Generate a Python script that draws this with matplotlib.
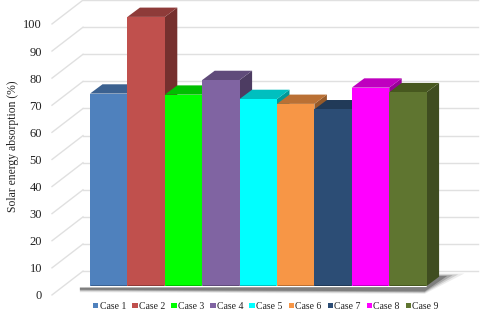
import matplotlib
matplotlib.use('Agg')
import matplotlib.pyplot as plt
from matplotlib.patches import Polygon, Patch

plt.rcParams['font.family'] = ['Liberation Serif', 'DejaVu Serif']

cases = ['Case 1', 'Case 2', 'Case 3', 'Case 4', 'Case 5', 'Case 6', 'Case 7', 'Case 8', 'Case 9']
values = [71, 99.3, 70.6, 76, 69, 67.2, 65.2, 73.2, 71.5]
y_ticks = [0, 10, 20, 30, 40, 50, 60, 70, 80, 90, 100]
front_colors = ['#4F81BD', '#C0504D', '#00FF00', '#8064A2', '#00FFFF', '#F79646', '#2C4D75', '#FF00FF', '#5F7530']
top_colors = ['#3B6190', '#8E3B39', '#00BF00', '#604B7A', '#00BFBF', '#BA7034', '#213A58', '#BF00BF', '#47581F']
side_colors = ['#2F4D73', '#76302E', '#009900', '#4D3C62', '#009999', '#955A2A', '#1A2E46', '#990099', '#3F4D20']

# bar width is one x unit, y is in percent
px_x = 37.4
px_y = 2.71
x0 = 90 / px_x
dx = 12.5 / px_x
dy = 9.3 / px_y
wall = 5.5      # grid 0 on the back wall, relative to bar 0
floor = -3.3    # axis 0 on the front edge

fig = plt.figure(figsize=(4.8, 3.11), dpi=100)
ax = fig.add_axes([0, 0, 1, 1])
ax.set_xlim(-x0, (480 - 90) / px_x)
ax.set_ylim(-25 / px_y, 286 / px_y)
ax.axis('off')

n = len(values)
back_x = -7 / px_x
front_x = -38 / px_x
for t in y_ticks:
    ax.plot([back_x, 388 / px_x], [wall + t, wall + t], color='#E0E0E0', lw=1, zorder=1)
    ax.plot([front_x, back_x], [floor + t, wall + t], color='#E0E0E0', lw=1, zorder=1)
    ax.text(-48 / px_x, floor + t, str(t), ha='right', va='center_baseline', fontsize=9, color='#222222')

ax.text(-77 / px_x, 51.7, 'Solar energy absorption (%)', rotation=90, ha='center', va='center',
        fontsize=8.4, color='#222222')

# soft floor shadow
for grow, alpha in [(2.5, 0.1), (1.6, 0.18), (0.8, 0.28), (0, 0.45)]:
    g = grow / px_y
    ax.add_patch(Polygon([(-0.27, -0.6), (-0.27, -1.4 - g), (n - 0.05, -2 - g), (n + 0.55 + g / 2, 3.7 + g),
                          (n + 0.1, 3.7 + g), (n, -0.4)],
                         closed=True, fc='#4A4A4A', ec='none', alpha=alpha, zorder=2))

for i, v in enumerate(values):
    ax.add_patch(Polygon([(i + 1, 0), (i + 1 + dx, dy), (i + 1 + dx, v + dy), (i + 1, v)],
                         fc=side_colors[i], ec='none', zorder=3))
    ax.add_patch(Polygon([(i, v), (i + dx, v + dy), (i + 1 + dx, v + dy), (i + 1, v)],
                         fc=top_colors[i], ec='none', zorder=3))
    ax.bar(i + 0.5, v, width=1, color=front_colors[i], zorder=3)
    ax.bar(i + 0.5, 0.5, width=0.96, color=top_colors[i], zorder=3)

handles = [Patch(fc=c, ec='none') for c in front_colors]
ax.legend(handles, cases, ncol=n, loc='center', bbox_to_anchor=(266 / 480, 4.5 / 311), frameon=False,
          fontsize=7, handlelength=0.55, handleheight=0.55, handletextpad=0.14,
          columnspacing=0.62, borderpad=0, labelcolor='#222222')

fig.savefig('out.png', dpi=100)
